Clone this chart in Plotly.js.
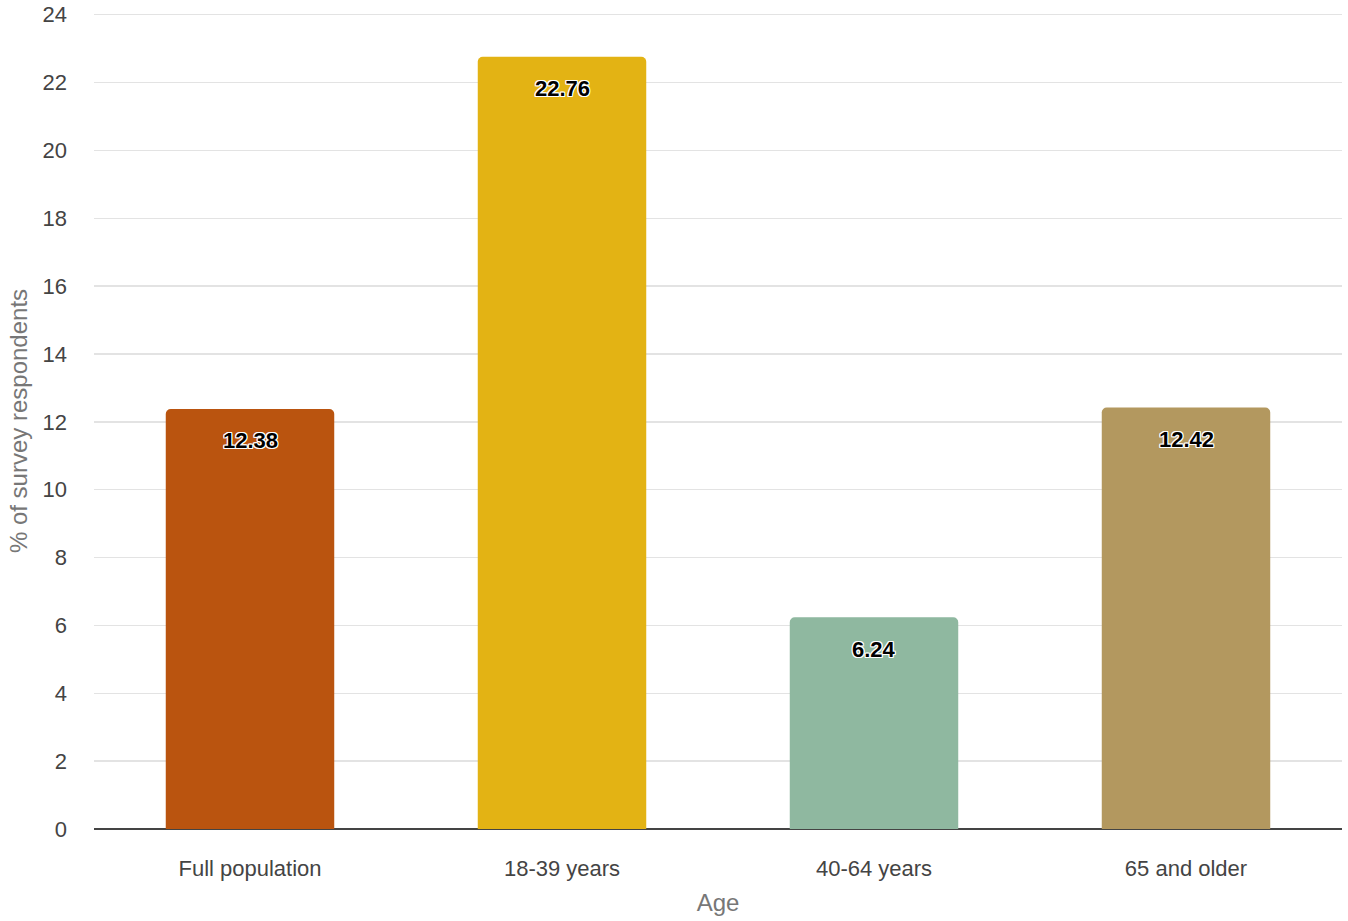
<!DOCTYPE html>
<html>
<head>
<meta charset="utf-8">
<script src="https://cdn.plot.ly/plotly-3.0.1.min.js"></script>
<style>
  html, body { margin: 0; padding: 0; background: #fff; }
  #chart { width: 1348px; height: 921px; }
</style>
</head>
<body>
<div id="chart"></div>
<script>
// Share of survey respondents by age group
const categories = ["Full population", "18-39 years", "40-64 years", "65 and older"];
const values = [12.38, 22.76, 6.24, 12.42];
const barColors = ["#BA540F", "#E3B314", "#8FB8A0", "#B3985F"];
const yTicks = [0, 2, 4, 6, 8, 10, 12, 14, 16, 18, 20, 22, 24];

const FONT = "Liberation Sans, Arial, sans-serif";
const halo = "1px 1px 0 #fff, -1px -1px 0 #fff, 1px -1px 0 #fff, -1px 1px 0 #fff, 0 1px 0 #fff, 0 -1px 0 #fff, 1px 0 0 #fff, -1px 0 0 #fff";

const trace = {
  type: "bar",
  x: categories,
  y: values,
  marker: { color: barColors, line: { width: 0 }, cornerradius: 5 },
  hoverinfo: "x+y",
  cliponaxis: false
};

// value labels sit just below the top of each bar
const valueLabels = categories.map((c, i) => ({
  x: c,
  y: values[i],
  xref: "x",
  yref: "y",
  text: values[i].toFixed(2),
  showarrow: false,
  yanchor: "middle",
  yshift: -32,
  font: { family: FONT, size: 22, color: "#000", weight: 700, shadow: halo }
}));

const layout = {
  width: 1348,
  height: 921,
  margin: { l: 94, r: 6, t: 13, b: 92 },
  paper_bgcolor: "#fff",
  plot_bgcolor: "#fff",
  bargap: 0.46,
  showlegend: false,
  font: { family: FONT, color: "#444" },
  annotations: valueLabels,
  xaxis: {
    type: "category",
    showgrid: false,
    showline: false,
    zeroline: false,
    ticks: "",
    tickfont: { size: 22, color: "#444" },
    ticklabelstandoff: 24,
    title: { text: "Age", font: { size: 24, color: "#777" }, standoff: 14 }
  },
  yaxis: {
    range: [0, 24.05],
    tickvals: yTicks,
    ticktext: yTicks.map(String),
    showgrid: true,
    gridcolor: "#e3e3e3",
    gridwidth: 1.5,
    zeroline: true,
    zerolinecolor: "#444",
    zerolinewidth: 2,
    showline: false,
    ticks: "",
    tickfont: { size: 22, color: "#444" },
    ticklabelstandoff: 26,
    title: { text: "% of survey respondents", font: { size: 24, color: "#777" }, standoff: 8 }
  }
};

Plotly.newPlot("chart", [trace], layout, { displayModeBar: false, staticPlot: true });
</script>
</body>
</html>
